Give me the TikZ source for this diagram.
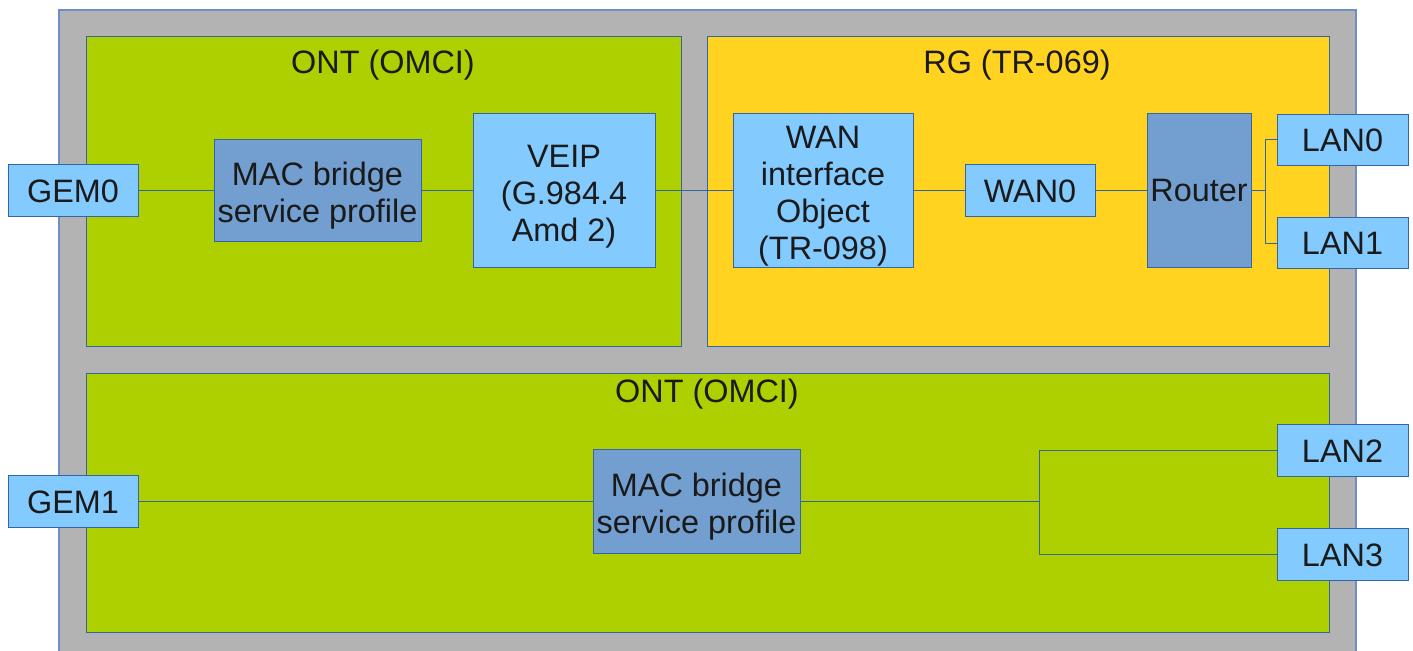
\documentclass[tikz,border=0pt]{standalone}
\usepackage{fontspec}
\setmainfont{Liberation Sans}
\definecolor{outergray}{HTML}{B3B3B3}
\definecolor{ontgreen}{HTML}{AFD000}
\definecolor{rgyellow}{HTML}{FFD320}
\definecolor{lightblue}{HTML}{83CAFF}
\definecolor{darkblue}{HTML}{729FCF}
\definecolor{edgeblue}{HTML}{3465A4}
\definecolor{outeredge}{HTML}{6C8FC8}
\definecolor{txt}{HTML}{1A1A1A}
\newcommand{\topstrut}{\rule{0pt}{16.5pt}}
\begin{document}
\begin{tikzpicture}[x=0.5pt,y=-0.5pt,
  every node/.style={font=\fontsize{16.2}{18.5}\selectfont, text=txt},
  area/.style={draw=edgeblue, line width=0.5pt},
  lbox/.style={draw=edgeblue, line width=0.5pt, fill=lightblue, align=center, inner sep=0pt},
  dbox/.style={draw=edgeblue, line width=0.5pt, fill=darkblue, align=center, inner sep=0pt},
  wire/.style={draw=edgeblue, line width=0.5pt}]
\useasboundingbox (0,0) rectangle (1413,651);
% containers
\fill[white] (0,0) rectangle (1413,651);
\draw[draw=outeredge, line width=0.6pt, fill=outergray] (59,10) rectangle (1356,660);
\draw[area, fill=ontgreen] (86,37) rectangle (681,347);
\draw[area, fill=rgyellow] (707,37) rectangle (1329,347);
\draw[area, fill=ontgreen] (86,374) rectangle (1329,632);
\node (t1) at (383,65) {ONT (OMCI)};
\node (t2) at (1017,65) {RG (TR-069)};
\node (t3) at (707,394) {ONT (OMCI)};
% nodes
\node[lbox, minimum width=65pt, minimum height=26pt] (gem0) at (73,191) {GEM0};
\node[dbox, minimum width=103.5pt, minimum height=51pt] (mac1) at (317.5,191) {\topstrut MAC bridge\\service profile};
\node[lbox, minimum width=91pt, minimum height=77pt] (veip) at (564,191) {\topstrut VEIP\\(G.984.4\\Amd 2)};
\node[lbox, minimum width=90pt, minimum height=77pt] (wanif) at (823,191) {\topstrut WAN\\interface\\Object\\(TR-098)};
\node[lbox, minimum width=65pt, minimum height=26pt] (wan0) at (1030,191) {WAN0};
\node[dbox, minimum width=52pt, minimum height=77pt] (router) at (1199,191) {Router};
\node[lbox, minimum width=65.5pt, minimum height=25.5pt] (lan0) at (1342.5,140) {LAN0};
\node[lbox, minimum width=65.5pt, minimum height=25.5pt] (lan1) at (1342.5,243.5) {LAN1};
\node[lbox, minimum width=65pt, minimum height=26pt] (gem1) at (73,502) {GEM1};
\node[dbox, minimum width=103.5pt, minimum height=52pt] (mac2) at (696.5,502) {\topstrut MAC bridge\\service profile};
\node[lbox, minimum width=65.5pt, minimum height=26pt] (lan2) at (1342.5,451) {LAN2};
\node[lbox, minimum width=65.5pt, minimum height=26pt] (lan3) at (1342.5,555) {LAN3};
% connectors
\draw[wire] (gem0.east) -- (mac1.west);
\draw[wire] (mac1.east) -- (veip.west);
\draw[wire] (veip.east) -- (wanif.west);
\draw[wire] (wanif.east) -- (wan0.west);
\draw[wire] (wan0.east) -- (router.west);
\draw[wire] (router.east) -- ++(14,0) coordinate (rj) |- (lan0.west);
\draw[wire] (rj) |- (lan1.west);
\draw[wire] (gem1.east) -- (mac2.west);
\draw[wire] (mac2.east) -- ++(239,0) coordinate (bj) |- (lan2.west);
\draw[wire] (bj) |- (lan3.west);
\end{tikzpicture}
\end{document}
